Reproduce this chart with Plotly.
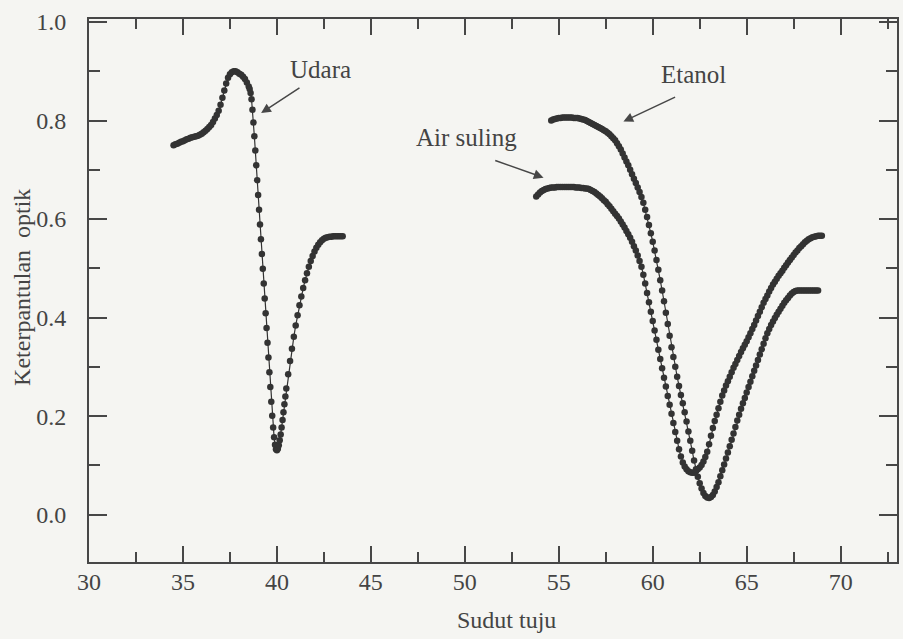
import numpy as np
import plotly.graph_objects as go

# ---------------- data ----------------
# Udara (air): angle grid is denser around the dip
udara_x = (
    [round(34.5 + 0.1 * i, 2) for i in range(40)]      # 34.5 .. 38.4
    + [round(38.5 + 0.05 * i, 2) for i in range(41)]   # 38.5 .. 40.5
    + [round(40.6 + 0.1 * i, 2) for i in range(30)]    # 40.6 .. 43.5
)
udara_y = [
    .750, .752, .753, .755, .757, .758, .760, .762, .763, .765,
    .766, .767, .768, .769, .771, .773, .776, .779, .783, .787,
    .791, .797, .804, .811, .820, .832, .846, .861, .875, .887,
    .894, .898, .900, .900, .898, .895, .893, .889, .884, .877,
    # 38.5 .. 40.5 (0.05 steps)
    .869, .864, .856, .843, .822, .796, .768, .739, .709, .679,
    .649, .619, .589, .559, .529, .499, .469, .439, .409, .379,
    .349, .319, .289, .259, .229, .201, .177, .157, .142, .133,
    .131, .134, .141, .151, .163, .177, .192, .208, .224, .240,
    .256,
    # 40.6 .. 43.5
    .285, .312, .337, .361, .384, .405, .425, .443, .460, .476,
    .490, .503, .515, .525, .534, .542, .548, .553, .557, .560,
    .562, .563, .564, .564, .565, .565, .565, .565, .565, .565,
]

# Air suling (distilled water): 53.8 .. 69.0 step 0.1
air_start = 53.8
air_y = [
    .646, .650, .654, .657, .659, .661, .662, .663, .664, .664,
    .664, .665, .665, .665, .665, .665, .665, .665, .665, .665,
    .665, .664, .664, .664, .663, .663, .662, .662,
    .661, .659, .657, .655, .652, .649, .646, .642, .638, .635,
    .630, .626, .621, .616, .611, .606, .601, .595, .589, .583,
    .576, .569, .562, .554, .545, .536, .526, .515, .503, .487,
    .469, .450, .431, .412,
    .393, .374, .355, .335, .316, .297, .278, .260, .241, .223,
    .205, .186, .168, .150, .133, .118, .106, .098, .092, .088,
    .086, .085, .085,
    .088, .092, .096, .101, .108, .117, .128, .143, .160, .176,
    .190, .203, .216, .229, .242, .252, .262, .271, .280, .289,
    .298, .306, .314, .322, .330, .338, .345, .352, .360, .368,
    .377, .385, .394, .403, .412, .421, .430, .438, .445, .453,
    .460, .467, .473, .479, .485, .490, .495, .501, .506, .512,
    .517, .522, .527, .532, .536, .541, .545, .549, .553, .556,
    .559, .561, .563, .564, .565, .566, .566, .566,
]

# Etanol (ethanol): 54.6 .. 68.8 step 0.1
etanol_start = 54.6
etanol_y = [
    .800, .802, .803, .804, .805, .805, .806, .806, .806, .806,
    .806, .806, .805, .805, .805, .804, .803, .802, .801, .799,
    .797, .795, .793, .791, .789, .787, .785, .783, .780, .778,
    .775, .772, .768, .764, .760, .754, .748, .741, .733, .725,
    .717, .709, .700, .691, .682, .673, .664, .655, .645, .633,
    .619, .604, .588, .571, .554, .536, .517, .497, .476, .455,
    .433, .410, .387, .363, .340, .320, .300, .280, .261, .243,
    .226, .208, .189, .169, .150, .130, .110, .092, .077, .064,
    .053, .044, .038, .035, .034, .036, .040, .047, .056, .066,
    .078, .090, .102, .114, .126, .139, .152, .165, .178, .191,
    .203, .215, .226, .237, .248, .259, .270, .281, .292, .303,
    .314, .325, .336, .347, .358, .368, .377, .385, .392, .399,
    .406, .412, .418, .424, .430, .435, .440, .445, .449, .452,
    .454, .455, .455, .455, .455, .455, .455, .455, .455, .455,
    .455, .455, .455,
]

air_x = [round(air_start + 0.1 * i, 2) for i in range(len(air_y))]
etanol_x = [round(etanol_start + 0.1 * i, 2) for i in range(len(etanol_y))]

x_ticks = [30, 35, 40, 45, 50, 55, 60, 65, 70]
y_ticks = [0.0, 0.2, 0.4, 0.6, 0.8, 1.0]

# ---------------- styling ----------------
INK = "#333333"
AX = "#474747"
TXT = "#444444"
BG = "#f5f5f2"
FONT = "Liberation Serif, Times New Roman, serif"

fig = go.Figure()
for name, xs, ys in [("Udara", udara_x, udara_y),
                     ("Air suling", air_x, air_y),
                     ("Etanol", etanol_x, etanol_y)]:
    fig.add_trace(go.Scatter(
        x=xs, y=ys, name=name, mode="lines+markers",
        line=dict(color=INK, width=1.2),
        marker=dict(color=INK, size=6.5, line=dict(width=0)),
        showlegend=False, hoverinfo="skip",
    ))

axis_common = dict(
    showline=True, linecolor=AX, linewidth=2, mirror="allticks",
    ticks="inside", tickcolor=AX, tickwidth=1.5,
    showgrid=False, zeroline=False,
    tickfont=dict(family=FONT, size=24, color=TXT),
)

fig.update_xaxes(
    **axis_common, range=[30, 73.0], tickvals=x_ticks, ticklen=16,
    ticklabelstandoff=-3,
    minor=dict(ticks="inside", ticklen=10, dtick=2.5, tick0=30,
               tickcolor=AX, tickwidth=1.5, showgrid=False),
)
fig.update_yaxes(
    **axis_common, range=[-0.096, 1.006], tickvals=y_ticks, tickformat=".1f",
    ticklen=18, ticklabelstandoff=16,
    minor=dict(ticks="inside", ticklen=11, dtick=0.1, tick0=0,
               tickcolor=AX, tickwidth=1.5, showgrid=False),
)

annotations = [
    # labels
    dict(x=42.30, y=0.903, text="Udara", showarrow=False),
    dict(x=62.16, y=0.893, text="Etanol", showarrow=False),
    dict(x=50.11, y=0.765, text="Air suling", showarrow=False),
    # arrows (head at x,y ; tail at ax,ay)
    dict(x=39.16, y=0.815, ax=41.28, ay=0.868, text=""),
    dict(x=58.44, y=0.798, ax=61.27, ay=0.849, text=""),
    dict(x=54.19, y=0.684, ax=51.54, ay=0.720, text=""),
]
for a in annotations:
    base = dict(xref="x", yref="y", font=dict(family=FONT, size=25, color=TXT))
    if a["text"] == "":
        base.update(showarrow=True, axref="x", ayref="y", arrowhead=2,
                    arrowsize=1.3, arrowwidth=1.5, arrowcolor=AX, standoff=0)
    base.update(a)
    fig.add_annotation(**base)

# axis titles
fig.add_annotation(xref="paper", yref="paper", x=0.517, y=-0.1075,
                   text="Sudut tuju", showarrow=False,
                   xanchor="center", yanchor="middle",
                   font=dict(family=FONT, size=24, color=TXT))
fig.add_annotation(xref="paper", yref="paper", x=-0.083, y=0.5065,
                   text="Keterpantulan\u00a0 optik", showarrow=False,
                   textangle=-90, xanchor="center", yanchor="middle",
                   font=dict(family=FONT, size=24, color=TXT))

fig.update_layout(
    width=903, height=639,
    margin=dict(l=89, r=4, t=19, b=77),
    paper_bgcolor=BG, plot_bgcolor=BG,
    font=dict(family=FONT, color=TXT),
)

fig.write_html("out.html")
